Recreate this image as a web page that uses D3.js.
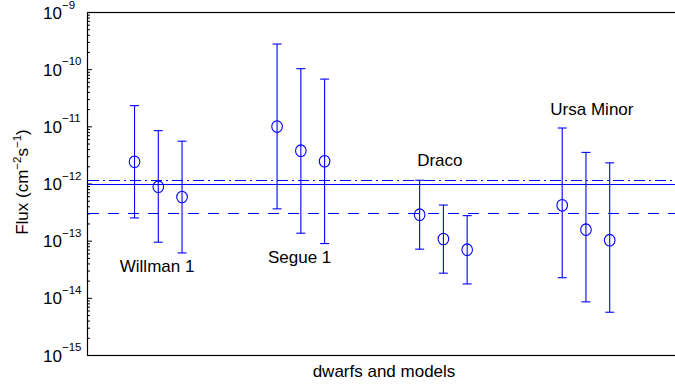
<!DOCTYPE html>
<html>
<head>
<meta charset="utf-8">
<script src="https://cdn.jsdelivr.net/npm/d3@7"></script>
<style>
  body { margin: 0; background: #fff; }
  text { font-family: "Liberation Sans", Arial, sans-serif; fill: #000; }
</style>
</head>
<body>
<script>
// dwarf galaxies, three models each
const dwarfs = ["Willman 1", "Segue 1", "Draco", "Ursa Minor"];
const xPos = [2, 3, 4, 8, 9, 10, 14, 15, 16, 20, 21, 22];
const flux = [2.4e-12, 8.8e-13, 5.8e-13, 9.9e-12, 3.75e-12, 2.45e-12,
              2.85e-13, 1.07e-13, 6.95e-14, 4.15e-13, 1.56e-13, 1.02e-13];
const fluxHi = [2.3e-11, 8.4e-12, 5.5e-12, 2.75e-10, 1.02e-10, 6.7e-11,
                1.14e-12, 4.2e-13, 2.74e-13, 9.35e-12, 3.5e-12, 2.3e-12];
const fluxLo = [2.5e-13, 9.4e-14, 6.1e-14, 3.6e-13, 1.35e-13, 8.9e-14,
                7.1e-14, 2.7e-14, 1.75e-14, 2.25e-14, 8.5e-15, 5.6e-15];
// reference levels
const solidLevel = 0.98e-12;
const dashDotLevel = 1.17e-12;
const dashedLevel = 3.1e-13;
// label anchors in data units
const labelX = [2.95, 8.95, 14.85, 21.25];
const labelY = [2.83e-14, 4.07e-14, 2.02e-12, 1.58e-11];
const yTicks = [1e-15, 1e-14, 1e-13, 1e-12, 1e-11, 1e-10, 1e-9];
const yExp = [-15, -14, -13, -12, -11, -10, -9];

const width = 675, height = 385;
const margin = { left: 87, top: 12, right: -6, bottom: 30 };

const svg = d3.select("body").append("svg")
  .attr("width", width).attr("height", height);

const x = d3.scaleLinear().domain([0, 25])
  .range([margin.left, width - margin.right]);
const y = d3.scaleLog().domain([1e-15, 1e-9])
  .range([height - margin.bottom, margin.top]);

const blue = "#0000ff";
const crisp = v => Math.round(v) + 0.5;

// minor ticks
const minor = [];
yExp.slice(0, -1).forEach(e => {
  for (let k = 2; k <= 9; k++) minor.push(k * Math.pow(10, e));
});

svg.append("g")
  .attr("transform", `translate(${margin.left},0)`)
  .call(d3.axisLeft(y).tickValues(minor).tickSize(-3).tickFormat(""))
  .call(g => g.select(".domain").remove());

svg.append("g")
  .attr("transform", `translate(${margin.left},0)`)
  .call(d3.axisLeft(y).tickValues(yTicks).tickSize(-5).tickFormat(""))
  .call(g => g.select(".domain").remove());

// tick labels 10^n
yTicks.forEach((v, i) => {
  svg.append("text")
    .attr("x", 62)
    .attr("y", y(v) + 6.5)
    .attr("text-anchor", "end")
    .style("font-size", "17px")
    .text("10");
  svg.append("text")
    .attr("x", 62)
    .attr("y", Math.max(y(v) - 4, 9))
    .style("font-size", "11.5px")
    .text("\u2212" + (-yExp[i]));
});

// frame (right side falls outside the window)
svg.append("rect")
  .attr("x", margin.left + 0.5).attr("y", margin.top + 0.5)
  .attr("width", width - margin.right - margin.left)
  .attr("height", height - margin.bottom - margin.top)
  .attr("fill", "none").attr("stroke", "#000").attr("stroke-width", 1.2);

// reference lines
const refs = [
  { v: solidLevel, dash: null },
  { v: dashDotLevel, dash: "11,4,2,4" },
  { v: dashedLevel, dash: "11,9" }
];
svg.append("g").selectAll("line").data(refs).join("line")
  .attr("x1", margin.left + 1).attr("x2", width)
  .attr("y1", d => crisp(y(d.v))).attr("y2", d => crisp(y(d.v)))
  .attr("stroke", blue).attr("stroke-width", 1)
  .attr("stroke-dasharray", d => d.dash);

// error bars
const pts = xPos.map((xv, i) => ({ x: xv, v: flux[i], hi: fluxHi[i], lo: fluxLo[i] }));
const bars = svg.append("g").attr("stroke", blue).attr("stroke-width", 1.1);
bars.selectAll(".stem").data(pts).join("line")
  .attr("x1", d => x(d.x)).attr("x2", d => x(d.x))
  .attr("y1", d => y(d.hi)).attr("y2", d => y(d.lo));
bars.selectAll(".capHi").data(pts).join("line")
  .attr("x1", d => x(d.x) - 4.5).attr("x2", d => x(d.x) + 4.5)
  .attr("y1", d => y(d.hi)).attr("y2", d => y(d.hi));
bars.selectAll(".capLo").data(pts).join("line")
  .attr("x1", d => x(d.x) - 4.5).attr("x2", d => x(d.x) + 4.5)
  .attr("y1", d => y(d.lo)).attr("y2", d => y(d.lo));

svg.append("g").selectAll("ellipse").data(pts).join("ellipse")
  .attr("cx", d => x(d.x)).attr("cy", d => y(d.v))
  .attr("rx", 5.3).attr("ry", 5.8)
  .attr("fill", "none").attr("stroke", blue).attr("stroke-width", 1.1);

// dwarf names
svg.append("g").selectAll("text").data(dwarfs).join("text")
  .attr("x", (d, i) => x(labelX[i]))
  .attr("y", (d, i) => y(labelY[i]))
  .attr("text-anchor", "middle")
  .style("font-size", "17px")
  .text(d => d);

// axis titles
svg.append("text")
  .attr("x", 384).attr("y", 377)
  .attr("text-anchor", "middle")
  .style("font-size", "17px")
  .text("dwarfs and models");

const yl = svg.append("text")
  .attr("transform", "translate(28,182) rotate(-90)")
  .attr("text-anchor", "middle")
  .style("font-size", "17px");
yl.append("tspan").text("Flux (cm");
yl.append("tspan").attr("dy", -7).style("font-size", "11.5px").text("\u22122");
yl.append("tspan").attr("dy", 7).text("s");
yl.append("tspan").attr("dy", -7).style("font-size", "11.5px").text("\u22121");
yl.append("tspan").attr("dy", 7).text(")");
</script>
</body>
</html>
